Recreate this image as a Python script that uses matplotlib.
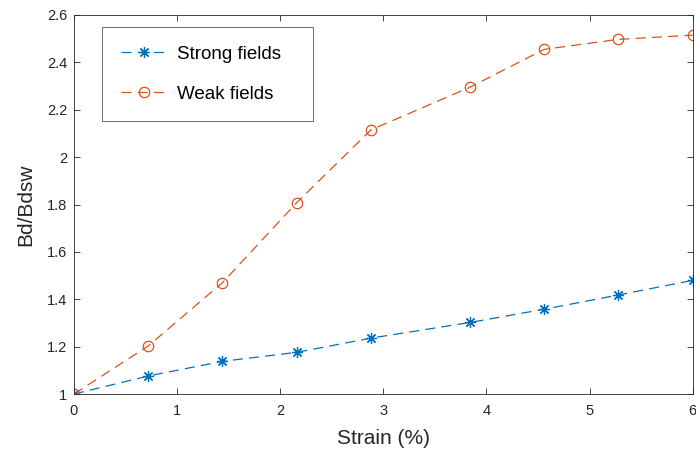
import matplotlib
matplotlib.use("Agg")
import matplotlib.pyplot as plt

# Strain levels (%) and normalised Bd/Bdsw ratios
strain = [0, 0.72, 1.44, 2.16, 2.88, 3.84, 4.56, 5.28, 6.0]
strong_fields = [1.0, 1.076, 1.138, 1.176, 1.236, 1.302, 1.358, 1.418, 1.480]
weak_fields = [1.0, 1.203, 1.470, 1.808, 2.115, 2.295, 2.455, 2.497, 2.515]

xticks = [0, 1, 2, 3, 4, 5, 6]
yticks = [1, 1.2, 1.4, 1.6, 1.8, 2, 2.2, 2.4, 2.6]
ytick_labels = ["1", "1.2", "1.4", "1.6", "1.8", "2", "2.2", "2.4", "2.6"]

blue = (0.0, 0.447, 0.741)
orange = (0.85, 0.325, 0.098)
axis_gray = (0.15, 0.15, 0.15)
asterisk = (8, 2, 0)
dashes = (0, (8, 5))

plt.rcParams["font.family"] = ["Liberation Sans", "DejaVu Sans"]

fig = plt.figure(figsize=(6.96, 4.5), dpi=100)
ax = fig.add_axes([0.1063, 0.1244, 0.8890, 0.8423])

ax.plot(strain, strong_fields, linestyle=dashes, color=blue, lw=0.9,
        marker=asterisk, markersize=8, markeredgewidth=0.9,
        label="Strong fields")
ax.plot(strain, weak_fields, linestyle=dashes, color=orange, lw=0.9,
        marker="o", markersize=7.5, markerfacecolor="none",
        markeredgewidth=0.9, label="Weak fields")

ax.set_xlim(0, 6)
ax.set_ylim(1, 2.6)
ax.set_xticks(xticks)
ax.set_xticklabels([str(t) for t in xticks])
ax.set_yticks(yticks)
ax.set_yticklabels(ytick_labels)

ax.tick_params(direction="in", length=4, width=0.6, colors=axis_gray,
               labelsize=10.5, top=True, right=True)
ax.tick_params(axis="x", pad=7)
ax.tick_params(axis="y", pad=5)
for spine in ax.spines.values():
    spine.set_color(axis_gray)
    spine.set_linewidth(0.6)

ax.set_xlabel("Strain (%)", fontsize=15, color=axis_gray, labelpad=8)
ax.set_ylabel("Bd/Bdsw", fontsize=15, color=axis_gray, labelpad=8.5)

leg = ax.legend(loc="upper left", bbox_to_anchor=(0.0457, 0.0, 0.341, 0.969),
                mode="expand", borderaxespad=0.0,
                fontsize=13.5, frameon=True, fancybox=False,
                edgecolor=axis_gray, handlelength=2.4, borderpad=1.0,
                labelspacing=1.22, handletextpad=0.6)
leg.get_frame().set_linewidth(0.6)

fig.savefig("out.png", dpi=100)
